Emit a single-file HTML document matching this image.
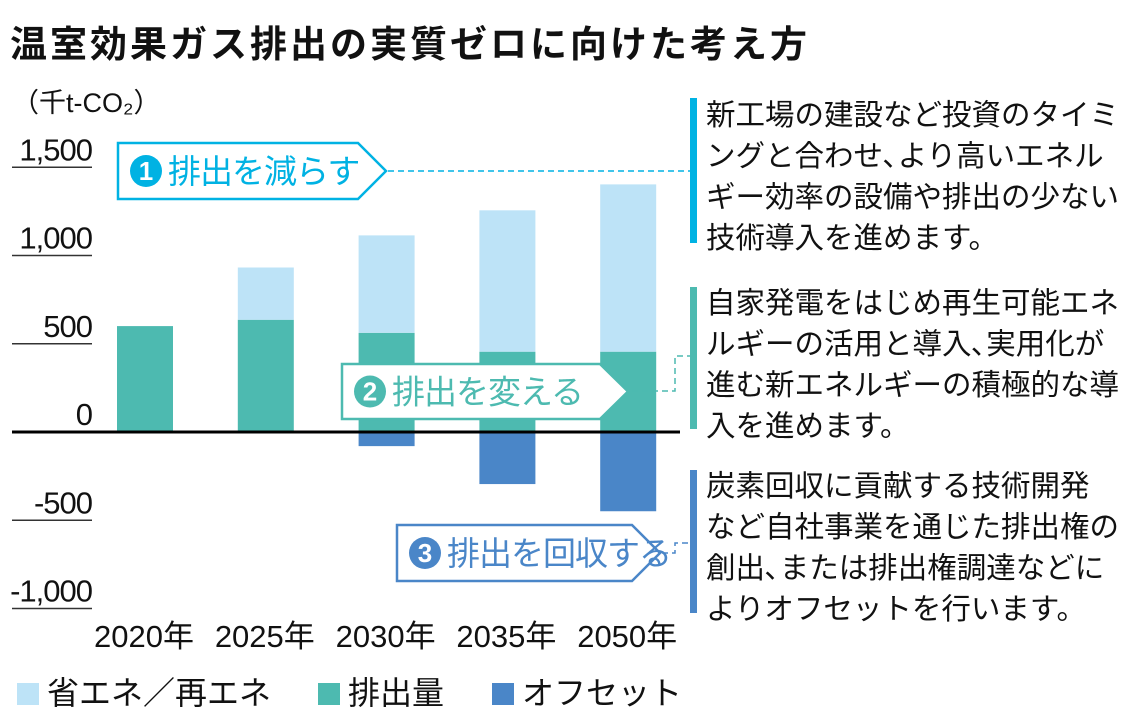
<!DOCTYPE html>
<html><head><meta charset="utf-8">
<style>
body{margin:0;background:#fff;width:1139px;height:717px;overflow:hidden;font-family:"Liberation Sans","Noto Sans CJK JP",sans-serif;}
.title{position:absolute;left:10px;top:14px;font-size:37px;font-weight:bold;color:#111;letter-spacing:3px;white-space:nowrap}
.note{position:absolute;left:706px;font-size:29.5px;letter-spacing:0px;line-height:41px;color:#111;white-space:nowrap}
.vbar{position:absolute;left:690px;width:7px}
.legend{position:absolute;top:668px;font-size:32px;color:#111;white-space:nowrap}
.legend span.sw{display:inline-block;width:22px;height:22px;margin-right:8px;vertical-align:-1px}
</style></head><body>
<div class="title">温室効果ガス排出の実質ゼロに向けた考え方</div>
<svg width="1139" height="717" style="position:absolute;left:0;top:0">
<g id="axis"></g><g id="bars"></g><g id="callouts"></g>
</svg>
<div class="vbar" style="top:98px;height:145px;background:#00b2e3"></div>
<div class="note" style="top:95px">新工場の建設など投資のタイミ<br>ングと合わせ､より高いエネル<br>ギー効率の設備や排出の少ない<br>技術導入を進めます。</div>
<div class="vbar" style="top:287px;height:142px;background:#4dbab0"></div>
<div class="note" style="top:283px">自家発電をはじめ再生可能エネ<br>ルギーの活用と導入､実用化が<br>進む新エネルギーの積極的な導<br>入を進めます。</div>
<div class="vbar" style="top:470px;height:143px;background:#4a86c8"></div>
<div class="note" style="top:466px">炭素回収に貢献する技術開発<br>など自社事業を通じた排出権の<br>創出､または排出権調達などに<br>よりオフセットを行います。</div>
<div class="legend" style="left:17px"><span class="sw" style="background:#bde3f7"></span>省エネ／再エネ</div>
<div class="legend" style="left:318px"><span class="sw" style="background:#4dbab0"></span>排出量</div>
<div class="legend" style="left:492px"><span class="sw" style="background:#4a86c8"></span>オフセット</div>
<script>
const categories=["2020年","2025年","2030年","2035年","2050年"];
const emission=[600,636,562,455,455];
const saving=[0,296,552,801,948];
const offset=[0,0,-80,-295,-449];
const yTicks=[1500,1000,500,0,-500,-1000];
const yTickLabels=["1,500","1,000","500","0","-500","-1,000"];
const NS="http://www.w3.org/2000/svg";
const y=v=>432-v*0.1765;
const xc=i=>145+i*120.8;
const bw=56;
function mk(tag,attrs,parent,text){const e=document.createElementNS(NS,tag);for(const k in attrs)e.setAttribute(k,attrs[k]);if(text!==undefined)e.textContent=text;parent.appendChild(e);return e;}
const ax=document.getElementById('axis'),bars=document.getElementById('bars'),co=document.getElementById('callouts');
const u=mk('text',{x:12,y:112,'font-size':27,fill:'#111'},ax,'（千t-CO₂）');


yTicks.forEach((t,i)=>{
  if(t!==0){const l=mk('line',{x1:12,x2:92,y1:y(t),y2:y(t),stroke:'#333','stroke-width':1.5},ax);
  
  }
  const tx=mk('text',{x:92,y:y(t)-7,'text-anchor':'end','font-size':31,'letter-spacing':-1,fill:'#111'},ax,yTickLabels[i]);
  
  
});
categories.forEach((c,i)=>{
  const x0=xc(i)-bw/2;
  const g=mk('rect',{x:x0,y:y(emission[i]),width:bw,height:y(0)-y(emission[i]),fill:'#4dbab0'},bars);
  
  
  if(saving[i]>0){const s=mk('rect',{x:x0,y:y(emission[i]+saving[i]),width:bw,height:y(emission[i])-y(emission[i]+saving[i]),fill:'#bde3f7'},bars);
  
  }
  if(offset[i]<0){const o=mk('rect',{x:x0,y:y(0),width:bw,height:y(offset[i])-y(0),fill:'#4a86c8'},bars);
  
  }
  const lb=mk('text',{x:xc(i)-1,y:647,'text-anchor':'middle','font-size':31,fill:'#111'},ax,c);
  
  
});
const zl=mk('line',{x1:12,x2:680,y1:432,y2:432,stroke:'#000','stroke-width':3},bars);


function callout(x1,y1,x2,y2,color,num,label,name,dash){
  const g=mk('g',{},co);
  
  
  const m=(y1+y2)/2;
  mk('polygon',{points:`${x1},${y1} ${x2-28},${y1} ${x2},${m} ${x2-28},${y2} ${x1},${y2}`,fill:'#fff',stroke:color,'stroke-width':2.5},g);
  mk('circle',{cx:x1+28,cy:m,r:16,fill:color},g);
  mk('text',{x:x1+28,y:m+9,'text-anchor':'middle','font-size':26,'font-weight':'bold',fill:'#fff'},g,num);
  mk('text',{x:x1+50,y:m+12,'font-size':33,'letter-spacing':-1,fill:color},g,label);
  mk('path',{d:dash,fill:'none',stroke:color,'stroke-width':1.5,'stroke-dasharray':'6,4'},g);
}
callout(118,143,386,199,'#00b2e3','1','排出を減らす','callout-reduce','M388,171 H690');
callout(342,364,628,419,'#4dbab0','2','排出を変える','callout-change','M632,391 H675 V356 H690');
callout(397,525,660,581,'#4a86c8','3','排出を回収する','callout-capture','M662,553 H675 V543 H690');
</script>
</body></html>
